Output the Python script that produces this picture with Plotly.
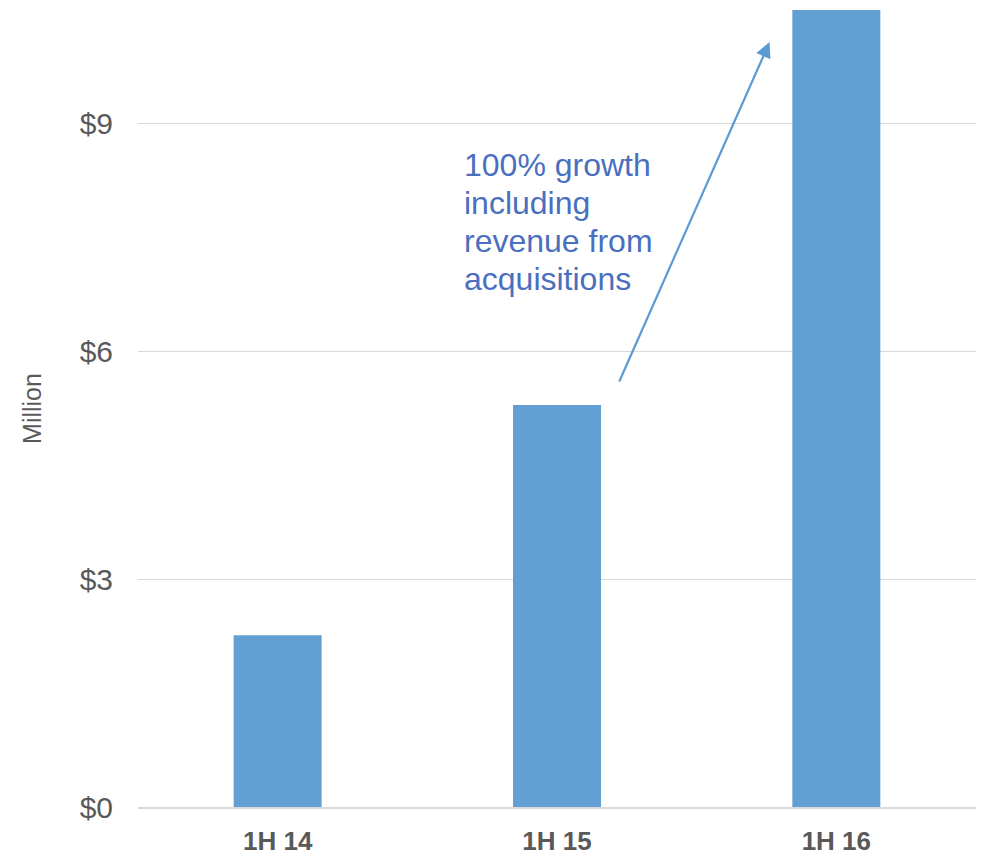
import plotly.graph_objects as go

# Half-year revenue, USD millions
periods = ["1H 14", "1H 15", "1H 16"]
revenue = [2.26, 5.29, 10.49]
tick_vals = [0, 3, 6, 9]
tick_text = ["$0", "$3", "$6", "$9"]
note_lines = ["100% growth", "including", "revenue from", "acquisitions"]

BAR = "#629fd2"
GRID = "#d9d9d9"
TXT = "#595959"
FONT = "Liberation Sans, Arial, sans-serif"

PLOT_TOP, PLOT_BOTTOM, FIG_H = 10, 807, 857

fig = go.Figure(
    go.Bar(x=periods, y=revenue, marker=dict(color=BAR, line=dict(width=0)), width=0.315)
)

fig.update_layout(
    width=987, height=FIG_H,
    margin=dict(l=138, r=11, t=PLOT_TOP, b=FIG_H - PLOT_BOTTOM),
    plot_bgcolor="white", paper_bgcolor="white",
    showlegend=False,
    font=dict(family=FONT, color=TXT),
)

fig.update_xaxes(
    showgrid=False, showline=True, linecolor=GRID, linewidth=1.5,
    ticks="", tickfont=dict(size=26, color=TXT, family=FONT),
    tickprefix="<b>", ticksuffix="</b>", ticklabelstandoff=10,
    automargin=False,
)
fig.update_yaxes(
    range=[0, 10.49], tickvals=tick_vals, ticktext=tick_text,
    showgrid=True, gridcolor=GRID, gridwidth=1.2, zeroline=False,
    tickfont=dict(size=30, color=TXT, family=FONT), ticklabelstandoff=24,
    title=dict(text="Million", font=dict(size=25, color=TXT, family=FONT), standoff=30),
    automargin=False,
)

# Growth arrow from 1H 15 toward 1H 16
fig.add_annotation(
    xref="paper", yref="paper", x=0.7537, y=0.9598,
    ax=-151, ay=341, axref="pixel", ayref="pixel",
    text="", showarrow=True, arrowhead=2, arrowsize=1.4, arrowwidth=2.2,
    arrowcolor="#5b9bd5",
)

# Callout text, one line per annotation for tight line spacing
plot_h = PLOT_BOTTOM - PLOT_TOP
for i, line in enumerate(note_lines):
    y_px = 165 + 38 * i
    fig.add_annotation(
        xref="paper", yref="paper", x=(462 - 138) / 838, y=(PLOT_BOTTOM - y_px) / plot_h,
        xanchor="left", yanchor="middle", align="left", showarrow=False,
        text=line, font=dict(size=32, color="#4a6fbe", family=FONT),
    )

fig.write_html("out.html")
